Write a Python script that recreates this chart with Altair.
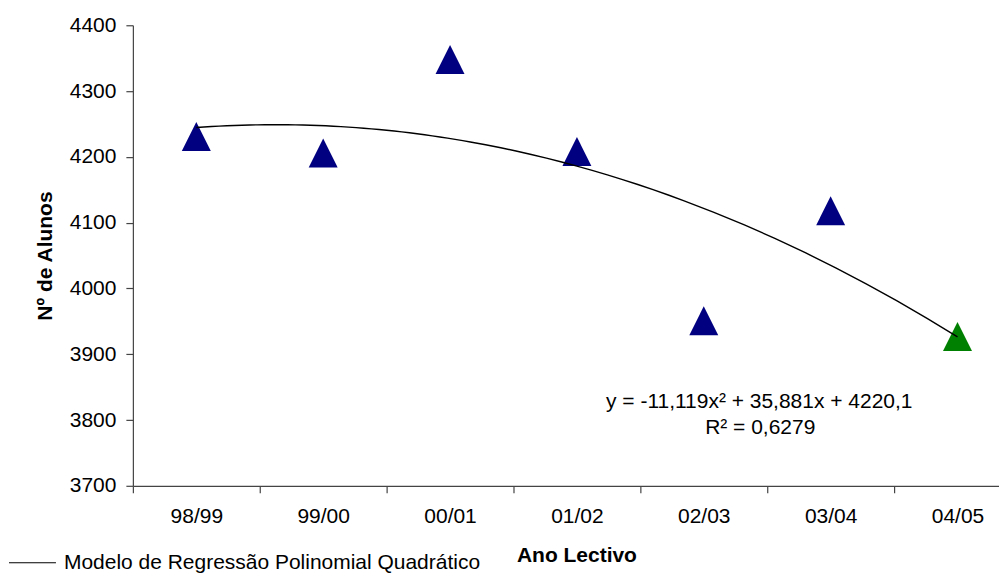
import json
import altair as alt
import pandas as pd

# ---- data ----
anos = ["98/99", "99/00", "00/01", "01/02", "02/03", "03/04", "04/05"]
ordem = [1, 2, 3, 4, 5, 6, 7]
alunos = [4231, 4206, 4348, 4208, 3951, 4118, 3927]
grupo = ["obs", "obs", "obs", "obs", "obs", "obs", "ult"]
y_ticks = [3700, 3800, 3900, 4000, 4100, 4200, 4300, 4400]
x_bounds = [0.5, 1.5, 2.5, 3.5, 4.5, 5.5, 6.5]
eq_text = ["y = -11,119x² + 35,881x + 4220,1"]
r2_text = ["R² = 0,6279"]
legend_label = ["Modelo de Regressão Polinomial Quadrático"]

df = pd.DataFrame({"ordem": ordem, "ano": anos, "alunos": alunos, "grupo": grupo})

FONT = "Liberation Sans"
FS = 21
W, H = 867, 461

x_scale = alt.Scale(domain=[0.5, 7.327], nice=False, zero=False)
y_scale = alt.Scale(domain=[3700, 4400], nice=False, zero=False)

label_expr = json.dumps(anos) + "[round(datum.value - 0.5)]"

x_axis = alt.Axis(
    values=x_bounds, labelExpr=label_expr, labelOffset=63.5, labelFlush=False,
    labelOverlap=False, grid=False, tickSize=7, labelPadding=13,
    title="Ano Lectivo", titleX=444, titleY=59, titleBaseline="top", titleAlign="center",
)
y_axis = alt.Axis(
    values=y_ticks, format="d", grid=False, tickSize=7, labelPadding=10,
    title="Nº de Alunos", titleX=-87, titleY=230.5, titleBaseline="middle",
    titleAlign="center", titleAngle=270,
)

pts = alt.Chart(df).mark_point(
    shape="M0,-1L1,1L-1,1Z", filled=True, size=841, opacity=1, strokeWidth=0
).encode(
    x=alt.X("ordem:Q", scale=x_scale, axis=x_axis),
    y=alt.Y("alunos:Q", scale=y_scale, axis=y_axis),
    color=alt.Color("grupo:N", scale=alt.Scale(domain=["obs", "ult"], range=["#000080", "#008000"]), legend=None),
)

reg = alt.Chart(df).transform_regression(
    "ordem", "alunos", method="poly", order=2, extent=[1, 7]
).mark_line(color="black", strokeWidth=1.4).encode(
    x=alt.X("ordem:Q", scale=x_scale, axis=x_axis),
    y=alt.Y("alunos:Q", scale=y_scale, axis=y_axis),
)

leg_df = pd.DataFrame({"t": legend_label})
leg_rule = alt.Chart(leg_df).mark_rule(color="black", strokeWidth=1.2).encode(
    x=alt.value(-124), x2=alt.value(-77), y=alt.value(538)
)
leg_txt = alt.Chart(leg_df).mark_text(
    align="left", baseline="middle", font=FONT, fontSize=FS, color="black"
).encode(x=alt.value(-69), y=alt.value(538), text="t:N")

eq1 = alt.Chart(pd.DataFrame({"t": eq_text})).mark_text(
    align="center", baseline="alphabetic", font=FONT, fontSize=FS, color="black"
).encode(x=alt.value(627), y=alt.value(383), text="t:N")
eq2 = alt.Chart(pd.DataFrame({"t": r2_text})).mark_text(
    align="center", baseline="alphabetic", font=FONT, fontSize=FS, color="black"
).encode(x=alt.value(628), y=alt.value(409), text="t:N")

chart = alt.layer(pts, reg, leg_rule, leg_txt, eq1, eq2).properties(
    width=W, height=H,
    padding={"left": 0, "top": 6, "right": 0, "bottom": 0},
).configure_view(stroke=None).configure_axis(
    domainColor="#444444", tickColor="#444444", domainWidth=1.2, tickWidth=1.2,
    labelFont=FONT, labelFontSize=FS, labelColor="black",
    titleFont=FONT, titleFontSize=FS, titleColor="black", titleFontWeight="bold",
)

chart.save("out.html", embed_options={"renderer": "svg", "actions": False})
